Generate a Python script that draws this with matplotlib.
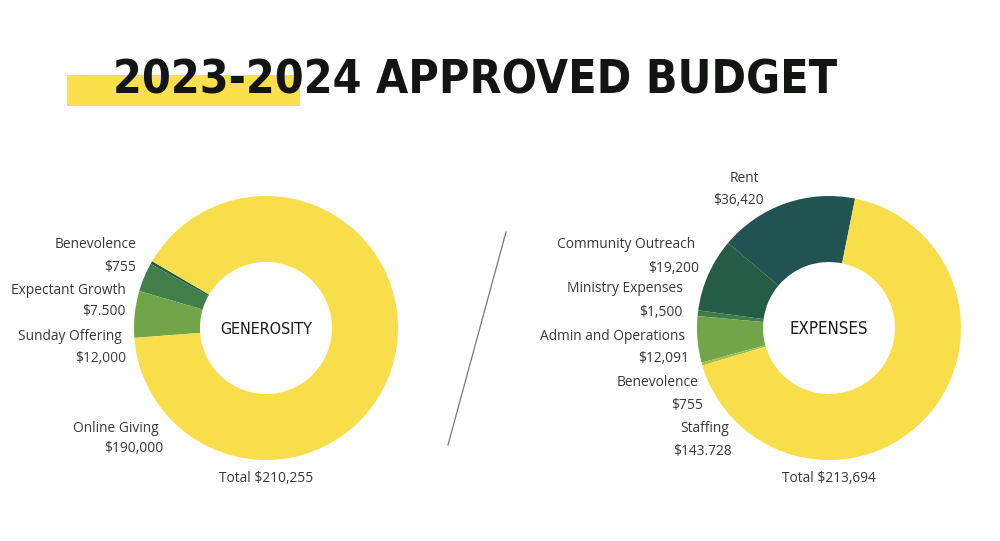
import matplotlib
matplotlib.use("Agg")
import matplotlib.pyplot as plt
from matplotlib import font_manager
from matplotlib.font_manager import FontProperties
from matplotlib.patches import Rectangle
from matplotlib.lines import Line2D

# ---------------- data ----------------
title_text = "2023-2024 APPROVED BUDGET"

gen_center_label = "GENEROSITY"
gen_labels = ["Benevolence", "Expectant Growth", "Sunday Offering", "Online Giving"]
gen_values = [755, 7500, 12000, 190000]
gen_value_text = ["$755", "$7.500", "$12,000", "$190,000"]
gen_total_text = "Total $210,255"
gen_colors = ["#1f5a47", "#427e4a", "#72a549", "#f9de4b"]

exp_center_label = "EXPENSES"
exp_labels = ["Rent", "Community Outreach", "Ministry Expenses",
              "Admin and Operations", "Benevolence", "Staffing"]
exp_values = [36420, 19200, 1500, 12091, 755, 143728]
exp_value_text = ["$36,420", "$19,200", "$1,500", "$12,091", "$755", "$143.728"]
exp_total_text = "Total $213,694"
exp_colors = ["#215352", "#245c45", "#3e7c4b", "#72a549", "#a3bf45", "#f9de4b"]

# ---------------- fonts ----------------
_WMAP = {"thin": 100, "extralight": 200, "light": 300, "normal": 400, "regular": 400,
         "book": 400, "medium": 500, "semibold": 600, "demibold": 600, "bold": 700,
         "extrabold": 800, "heavy": 800, "black": 900}
_SMAP = {"ultra-condensed": 50, "extra-condensed": 62, "condensed": 75,
         "semi-condensed": 87, "normal": 100}


def _w(f):
    try:
        return int(f.weight)
    except (TypeError, ValueError):
        return _WMAP.get(str(f.weight).lower(), 400)


def _s(f):
    n = f.name.lower()
    try:
        v = int(f.stretch)
        v = 100 if v == 500 else v
    except (TypeError, ValueError):
        v = _SMAP.get(str(f.stretch).lower(), 100)
    if v == 100:
        if "extracondensed" in n.replace(" ", "") or "extra condensed" in n:
            v = 62
        elif "semicondensed" in n.replace(" ", ""):
            v = 87
        elif "condensed" in n or "narrow" in n:
            v = 75
    return v


def _is_cond(f):
    return _s(f) < 100 and f.style == "normal"


ttf = font_manager.fontManager.ttflist
cond_bold = sorted([f for f in ttf if _is_cond(f) and _w(f) >= 600],
                   key=lambda f: (abs(_s(f) - 75), abs(_w(f) - 700)))
cond_reg = sorted([f for f in ttf if _is_cond(f) and _w(f) <= 400],
                  key=lambda f: (abs(_s(f) - 75), abs(_w(f) - 350)))
names = {f.name for f in ttf}

if cond_bold:
    title_fp = FontProperties(fname=cond_bold[0].fname)
else:
    title_fp = FontProperties(family=["Roboto", "DejaVu Sans"], weight="bold")
if cond_reg:
    center_fp = FontProperties(fname=cond_reg[0].fname)
else:
    center_fp = FontProperties(family=["Roboto", "DejaVu Sans"], weight="normal")

label_font = "Open Sans" if "Open Sans" in names else "DejaVu Sans"
label_size = 9.9
label_color = "#383838"

W, H = 1000, 541
fig = plt.figure(figsize=(W / 100, H / 100), dpi=100)
ax = fig.add_axes([0, 0, 1, 1])
fig.patch.set_facecolor("white")
ax.set_xlim(0, W)
ax.set_ylim(0, H)
ax.set_aspect("equal")
ax.axis("off")


def Y(y):
    return H - y


def fit_width(t, target):
    r = fig.canvas.get_renderer()
    w = t.get_window_extent(r).width
    t.set_fontsize(t.get_fontsize() * target / w)


# yellow highlight bar behind the title
ax.add_patch(Rectangle((67, Y(106)), 233, 31, facecolor="#fbe04c",
                       edgecolor="none", zorder=1))
title = ax.text(113, Y(94), title_text, fontproperties=title_fp, fontsize=36,
                color="#121512", ha="left", va="baseline", zorder=2)
fit_width(title, 725)

R = 132
RING = 66

# left donut
ax.pie(gen_values, colors=gen_colors, startangle=149.6, counterclock=True,
       center=(266, Y(328)), radius=R, frame=True,
       wedgeprops=dict(width=RING, edgecolor="none", linewidth=0))
# right donut
ax.pie(exp_values, colors=exp_colors, startangle=78.6, counterclock=True,
       center=(829, Y(328)), radius=R, frame=True,
       wedgeprops=dict(width=RING, edgecolor="none", linewidth=0))

c1 = ax.text(266, Y(334.5), gen_center_label, fontproperties=center_fp, fontsize=12,
             color="#1a1a1a", ha="center", va="baseline")
fit_width(c1, 92)
c2 = ax.text(829, Y(334.5), exp_center_label, fontproperties=center_fp, fontsize=12,
             color="#1a1a1a", ha="center", va="baseline")
fit_width(c2, 78)

# label layout (right edge x, name center y, value center y)
gen_name_pos = [(136, 244), (126, 290), (122, 336), (159, 427)]
gen_val_pos = [(136, 266), (126, 311), (126, 357), (163, 448)]
exp_name_pos = [(759, 177), (695, 244), (683, 288), (685, 335), (699, 382), (729, 428)]
exp_val_pos = [(764, 199), (699, 267), (683, 311), (689, 357), (703, 404), (732, 450)]

BASE = 4.5


def label(x, y, s, ha="right"):
    ax.text(x, Y(y + BASE), s, fontsize=label_size, family=[label_font, "DejaVu Sans"],
            color=label_color, ha=ha, va="baseline")


for name, val, (nx, ny), (vx, vy) in zip(gen_labels, gen_value_text, gen_name_pos, gen_val_pos):
    label(nx, ny, name)
    label(vx, vy, val)
for name, val, (nx, ny), (vx, vy) in zip(exp_labels, exp_value_text, exp_name_pos, exp_val_pos):
    label(nx, ny, name)
    label(vx, vy, val)

label(266, 478, gen_total_text, ha="center")
label(829, 477, exp_total_text, ha="center")

# thin divider between the donuts
ax.add_line(Line2D([506, 448], [Y(232), Y(445)], color="#777777", linewidth=0.9))

fig.savefig("out.png", dpi=100, facecolor="white")
